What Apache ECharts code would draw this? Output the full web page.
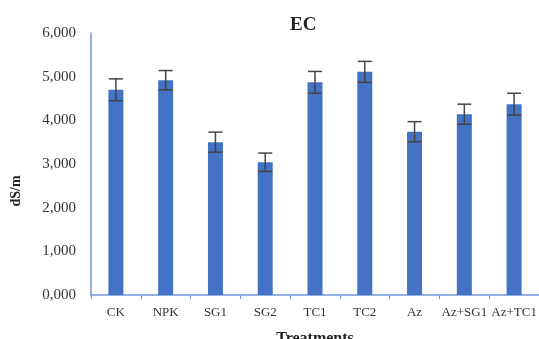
<!DOCTYPE html>
<html><head><meta charset="utf-8">
<script src="https://cdn.jsdelivr.net/npm/echarts@6/dist/echarts.min.js"></script>
<style>html,body{margin:0;padding:0;background:#fff}#c{width:539px;height:339px}</style>
</head><body><div id="c"></div>
<script>
const categories = ['CK','NPK','SG1','SG2','TC1','TC2','Az','Az+SG1','Az+TC1'];
const ecValues = [4.70, 4.92, 3.50, 3.04, 4.87, 5.11, 3.74, 4.14, 4.37];
const ecErrors = [0.25, 0.22, 0.23, 0.21, 0.25, 0.24, 0.23, 0.23, 0.25];
const yTicks = [0, 1, 2, 3, 4, 5, 6];

const chart = echarts.init(document.getElementById('c'), null, {renderer:'canvas'});
const serif = '"Liberation Serif","DejaVu Serif",serif';
chart.setOption({
  animation:false,
  title:{text:'EC', left:285, top:11, textStyle:{fontFamily:serif, fontSize:19, fontWeight:'bold', color:'#222'}},
  grid:{left:91, right:0, top:33, bottom:44, outerBoundsMode:'none', containLabel:false},
  xAxis:{type:'category', data:categories,
    axisLine:{lineStyle:{color:'#6f96d8', width:1.5}},
    axisTick:{show:true, alignWithLabel:false, length:4, lineStyle:{color:'#6f96d8'}},
    axisLabel:{fontFamily:serif, fontSize:13, color:'#333', margin:11, interval:0, hideOverlap:false},
    name:'Treatments', nameLocation:'middle', nameGap:36,
    nameTextStyle:{fontFamily:serif, fontSize:16, fontWeight:'bold', color:'#222', verticalAlign:'top'}},
  yAxis:{type:'value', min:yTicks[0], max:yTicks[yTicks.length-1], interval:1,
    axisLine:{show:true, lineStyle:{color:'#6f96d8', width:1.5}},
    axisTick:{show:false}, splitLine:{show:false},
    axisLabel:{fontFamily:serif, fontSize:15, color:'#333', margin:15,
      formatter:v=>v.toFixed(3).replace('.',',')}},
  graphic:[{type:'text', x:16, y:191, rotation:Math.PI/2,
    style:{text:'dS/m', font:'bold 14px '+serif, fill:'#222', textAlign:'center', textVerticalAlign:'middle'}}],
  series:[
    {type:'bar', data:ecValues, barWidth:15, itemStyle:{color:'#4472c4'}},
    {type:'custom', data:ecValues.map((v,i)=>[i, v-ecErrors[i], v+ecErrors[i]]),
      renderItem:(params, api)=>{
        const lo = api.coord([api.value(0), api.value(1)]);
        const hi = api.coord([api.value(0), api.value(2)]);
        const hw = 7;
        const st = {stroke:'#454545', lineWidth:1.5};
        return {type:'group', children:[
          {type:'line', shape:{x1:hi[0], y1:hi[1], x2:lo[0], y2:lo[1]}, style:st},
          {type:'line', shape:{x1:hi[0]-hw, y1:hi[1], x2:hi[0]+hw, y2:hi[1]}, style:st},
          {type:'line', shape:{x1:lo[0]-hw, y1:lo[1], x2:lo[0]+hw, y2:lo[1]}, style:st}
        ]};
      }, z:5}
  ]
});
</script></body></html>
